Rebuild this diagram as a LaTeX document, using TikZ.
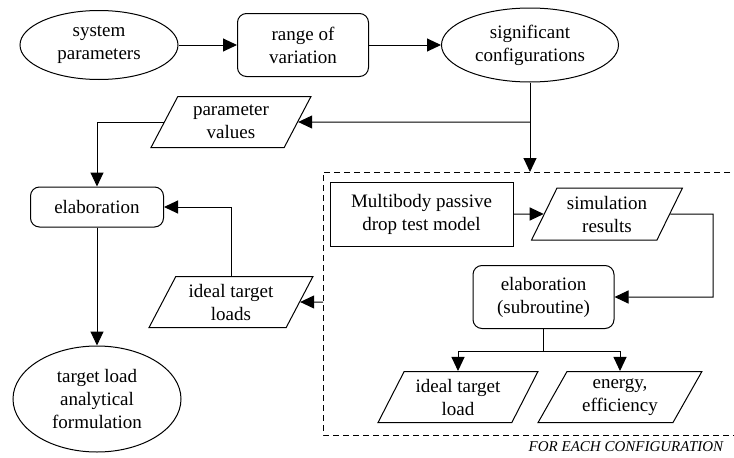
\documentclass[tikz,border=0pt]{standalone}
\usepackage{fontspec}
\setmainfont{Liberation Serif}
\newfontfamily\diagfont{Liberation Serif}
\usetikzlibrary{shapes.geometric,arrows.meta,positioning}

\tikzset{
  term/.style={draw, ellipse, align=center, inner sep=0pt},
  proc/.style={draw, rounded corners=9pt, align=center},
  data/.style={draw, trapezium, trapezium left angle=62, trapezium right angle=118,
    trapezium stretches=true, align=center, inner sep=2pt},
  flow/.style={-{Triangle[length=14pt,width=13pt]}},
}

\begin{document}
\begin{tikzpicture}[x=1pt, y=-1pt, line width=1pt, font=\diagfont\fontsize{19}{23}\selectfont]
    \useasboundingbox (0,0) rectangle (734,458);

    % Top row
    \node[term, minimum width=158, minimum height=69] (sys) at (99,45) {system\\parameters};
    \node[proc, minimum width=131, minimum height=63] (range) at (303,45) {range of\\variation};
    \node[term, minimum width=177, minimum height=74] (conf) at (530,45) {significant\\configurations};

    % Left column
    \node[data, minimum width=160, minimum height=51] (pval) at (231,122) {parameter\\values};
    \node[proc, minimum width=133, minimum height=40] (elab) at (97,207) {elaboration};
    \node[data, minimum width=164, minimum height=51] (iloads) at (231,302) {ideal target\\loads};
    \node[term, minimum width=168, minimum height=106] (formul) at (97,399) {target load\\analytical\\formulation};

    % Loop for each configuration
    \node[draw, minimum width=183, minimum height=64, align=center] (mbody) at (421.5,214) {Multibody passive\\drop test model};
    \node[data, minimum width=151, minimum height=52] (simres) at (607,214) {simulation\\results};
    \node[proc, minimum width=141, minimum height=63] (sub) at (543.5,297) {elaboration\\(subroutine)};
    \node[data, minimum width=160, minimum height=51] (iload) at (458,397) {ideal target\\load};
    \node[data, minimum width=164, minimum height=51] (energy) at (620,397) {energy,\\efficiency};
    \node[anchor=east, font=\diagfont\fontsize{15}{18}\selectfont\itshape] (each) at (727,447) {FOR EACH CONFIGURATION};

    % Dashed frame
    \coordinate (boxne) at (740,172);
    \coordinate (boxnw) at (323,172);
    \coordinate (boxsw) at (323,435);
    \coordinate (boxse) at (740,435);
    \draw[dash pattern=on 6pt off 4pt] (boxne) -- (boxnw) -- (boxsw) -- (boxse);

    % Connectors
    \coordinate (split) at (530,122);
    \coordinate (turn) at (713,214);
    \coordinate (fork) at (543.5,351);
    \draw[flow] (sys) -- (range);
    \draw[flow] (range) -- (conf);
    \draw (conf) -- (split);
    \draw[flow] (split) -- (pval);
    \draw[flow] (split) -- (split |- boxnw);
    \draw[flow] (pval) -| (elab);
    \draw[flow] (iloads.north) |- (elab);
    \draw[flow] (boxnw |- iloads) -- (iloads);
    \draw[flow] (elab) -- (formul);
    \draw[flow] (mbody) -- (simres);
    \draw[flow] (simres) -- (turn) |- (sub);
    \draw (sub) -- (fork);
    \draw[flow] (fork) -| (iload.north);
    \draw[flow] (fork) -| (energy.north);
\end{tikzpicture}
\end{document}
